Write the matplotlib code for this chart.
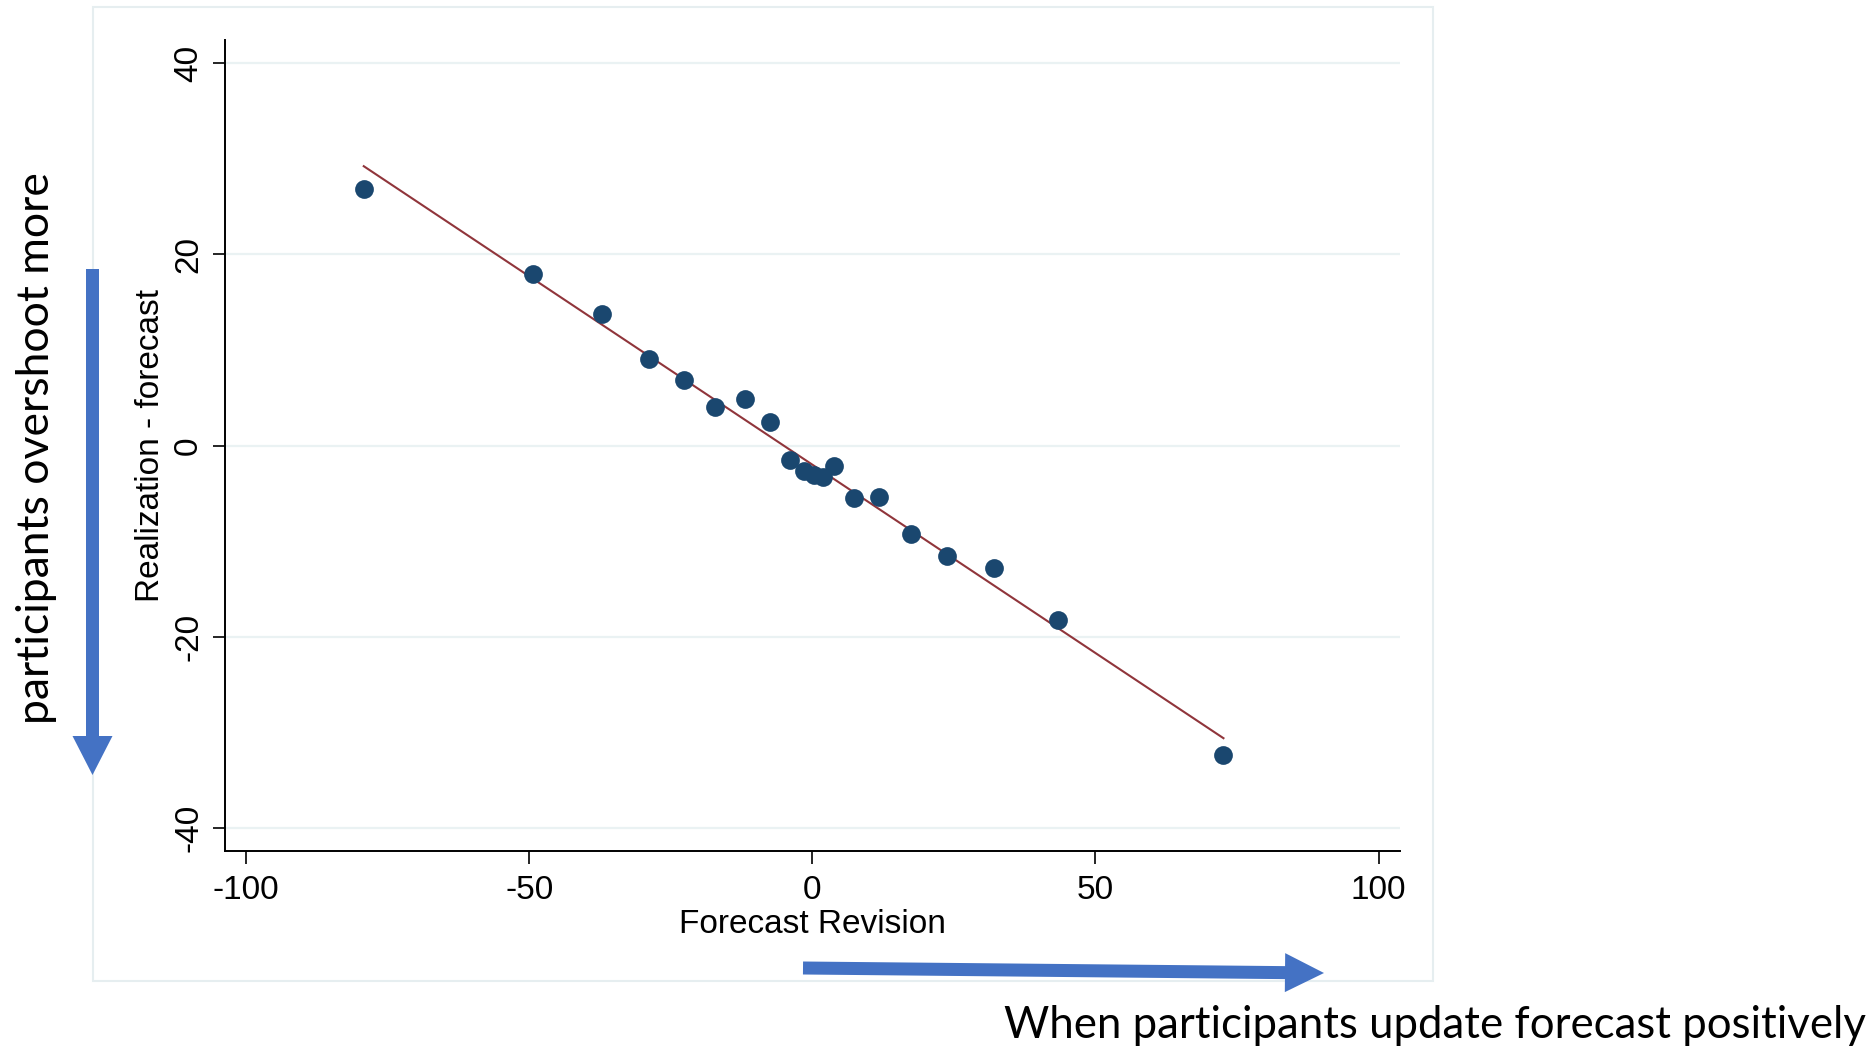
import numpy as np
import matplotlib
matplotlib.use("Agg")
import matplotlib.pyplot as plt
from matplotlib.patches import FancyArrow, Rectangle

# binned scatter: forecast revision vs realization - forecast
forecast_revision = [-79.2, -49.4, -37.2, -28.9, -22.7, -17.1, -11.9, -7.5, -3.9, -1.5,
                     0.3, 1.9, 3.9, 7.4, 11.8, 17.5, 23.8, 32.0, 43.4, 72.6]
realization_minus_forecast = [26.8, 17.9, 13.8, 9.0, 6.8, 4.05, 4.9, 2.5, -1.5, -2.7,
                              -3.1, -3.3, -2.1, -5.45, -5.35, -9.3, -11.6, -12.8, -18.2, -32.4]
# linear fit
fit_intercept = -2.0
fit_slope = -0.394

x_ticks = [-100, -50, 0, 50, 100]
y_ticks = [-40, -20, 0, 20, 40]

navy = "#1a476f"
maroon = "#90353b"
grid_col = "#eaf2f3"
arrow_col = "#4472c4"

W, H = 1876, 1048
fig = plt.figure(figsize=(W / 100, H / 100), dpi=100)

ax = fig.add_axes([225 / W, 1 - 851 / H, (1399.6 - 225) / W, (851 - 40) / H])
x = np.array(forecast_revision)
y = np.array(realization_minus_forecast)
xs = np.array([x.min(), x.max()])
ax.plot(xs, fit_intercept + fit_slope * xs, color=maroon, lw=1.5, zorder=2)
ax.plot(x, y, "o", color=navy, markersize=13.5, markeredgewidth=0, zorder=3)

ax.set_xlim(-103.7, 103.7)
ax.set_ylim(-42.4, 42.4)
ax.set_xticks(x_ticks)
ax.set_yticks(y_ticks)
ax.set_xticklabels([str(t) for t in x_ticks])
ax.set_yticklabels([str(t) for t in y_ticks], rotation=90, va="center")
for t in y_ticks:
    ax.axhline(t, color=grid_col, lw=1.6, zorder=1)

for s in ["top", "right"]:
    ax.spines[s].set_visible(False)
for s in ["left", "bottom"]:
    ax.spines[s].set_linewidth(1.4)
ax.tick_params(length=9, width=1.2, labelsize=24, labelfontfamily="Liberation Sans")
ax.tick_params(axis="y", pad=6)
ax.tick_params(axis="x", pad=8)

ax.set_xlabel("Forecast Revision", fontsize=24, family="Liberation Sans")
ax.set_ylabel("Realization - forecast", fontsize=24, family="Liberation Sans")
ax.xaxis.set_label_coords(0.5, -0.071)
ax.yaxis.set_label_coords(-0.05, 0.5)

# overlay in pixel coords for the slide annotations
ov = fig.add_axes([0, 0, 1, 1])
ov.set_xlim(0, W)
ov.set_ylim(H, 0)
ov.axis("off")

# outer light frame (the Stata graph region), under the arrows
ov.add_patch(Rectangle((93, 7), 1433 - 93, 981 - 7, fill=False,
                       edgecolor="#e6eef0", lw=1.5, zorder=0))

ov.add_patch(FancyArrow(92.5, 269, 0, 775 - 269, width=13, head_width=40,
                        head_length=39, length_includes_head=True,
                        color=arrow_col, lw=0, zorder=2))
ov.add_patch(FancyArrow(803, 968, 1324 - 803, 5, width=13, head_width=39,
                        head_length=39, length_includes_head=True,
                        color=arrow_col, lw=0, zorder=2))

ov.text(37, 448, "participants overshoot more", rotation=90, ha="center", va="center",
        fontsize=32, family="Lato")
ov.text(1866, 1026, "When participants update forecast positively", ha="right",
        va="center", fontsize=31.5, family="Lato")

fig.savefig("out.png", dpi=100)
